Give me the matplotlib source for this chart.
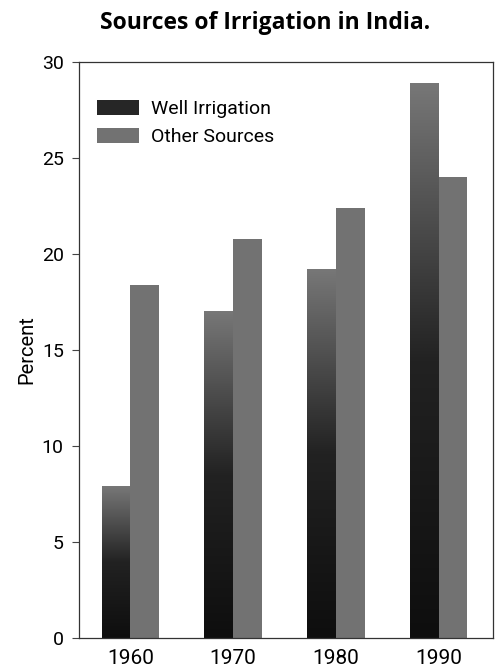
import numpy as np
import matplotlib
matplotlib.use("Agg")
import matplotlib.pyplot as plt
from matplotlib.colors import LinearSegmentedColormap
from matplotlib.patches import Patch

years = ["1960", "1970", "1980", "1990"]
well_irrigation = [7.9, 17.0, 19.2, 28.9]
other_sources = [18.4, 20.8, 22.4, 24.0]
y_ticks = [0, 5, 10, 15, 20, 25, 30]

narrow = ["Roboto", "DejaVu Sans"]

def main():
    fig = plt.figure(figsize=(5, 6.72), dpi=100)
    ax = fig.add_axes([0.158, 0.0506, 0.828, 0.857])

    # gradient for well irrigation bars (black at bottom, grey at top)
    cmap = LinearSegmentedColormap.from_list("well", ["#0e0e0e", "#222222", "#777777"])
    grad = np.linspace(0, 1, 256).reshape(-1, 1)

    x = np.arange(len(years))
    w = 0.28
    for i, v in enumerate(well_irrigation):
        ax.imshow(grad, cmap=cmap, origin="lower", aspect="auto",
                  extent=(x[i] - w, x[i], 0, v), zorder=2)
    ax.bar(x + w / 2, other_sources, width=w, color="#727272", zorder=2)

    ax.set_xlim(-0.5, 3.53)
    ax.set_ylim(0, 30)
    ax.set_xticks(x)
    ax.set_xticklabels(years, fontsize=15, family=narrow)
    ax.tick_params(axis="x", length=0, pad=8)
    ax.set_yticks(y_ticks)
    ax.set_yticklabels([str(t) for t in y_ticks], fontsize=14, family=narrow)
    ax.tick_params(axis="y", length=5, width=0.8, color="#444444", pad=6)
    ax.set_ylabel("Percent", fontsize=14.5, family=narrow, labelpad=4)
    for s in ax.spines.values():
        s.set_linewidth(0.9)
        s.set_color("#333333")

    handles = [Patch(facecolor="#262626", edgecolor="none"),
               Patch(facecolor="#727272", edgecolor="none")]
    ax.legend(handles, ["Well Irrigation", "Other Sources"], loc="upper left",
              bbox_to_anchor=(0.0, 0.965), frameon=False,
              prop={"family": narrow, "size": 14},
              handlelength=2.2, handleheight=0.8, handletextpad=0.6,
              labelspacing=0.5)

    fig.text(0.53, 0.966, "Sources of Irrigation in India.", ha="center", va="center",
             fontsize=16.5, fontweight="bold", family="Open Sans")

    fig.savefig("out.png", dpi=100)

if __name__ == "__main__":
    main()
